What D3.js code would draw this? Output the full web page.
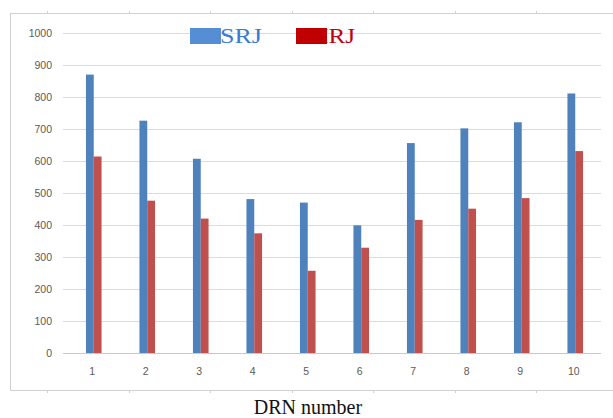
<!DOCTYPE html>
<html>
<head>
<meta charset="utf-8">
<script src="https://cdn.jsdelivr.net/npm/d3@7"></script>
<style>
  body { margin: 0; background: #fff; }
  svg { display: block; }
</style>
</head>
<body>
<div id="chart"></div>
<script>
const categories = ["1", "2", "3", "4", "5", "6", "7", "8", "9", "10"];
const seriesNames = ["SRJ", "MRJ"];
const srjValues = [870, 726, 607, 481, 470, 399, 656, 702, 721, 811];
const mrjValues = [614, 476, 420, 374, 257, 329, 416, 451, 484, 631];
const yTicks = [0, 100, 200, 300, 400, 500, 600, 700, 800, 900, 1000];

const width = 613, height = 418;
const barColors = ["#4f81bd", "#c0504d"];
const legendColors = ["#558ed5", "#c00000"];
const textColors = ["#3a7ad6", "#c00010"];

const svg = d3.select("#chart")
  .append("svg")
  .attr("width", width)
  .attr("height", height);

// outer frame (left, top, bottom edges)
const frame = svg.append("g").attr("stroke", "#d0d0d0").attr("fill", "none");
frame.append("path").attr("d", "M11,13.5H613M10.5,13V390.5M11,390.5H613");
d3.range(7).forEach(i => {
  const fx = Math.round(47 + i * 81.5) + 0.5;
  frame.append("line").attr("x1", fx).attr("x2", fx).attr("y1", 11).attr("y2", 13);
  frame.append("line").attr("x1", fx).attr("x2", fx).attr("y1", 391).attr("y2", 393);
});

const x = d3.scaleBand().domain(categories).range([67, 602]).padding(0);
const y = d3.scaleLinear().domain([0, 1000]).range([353, 33]);
const inner = d3.scaleBand().domain(seriesNames).range([-7.8, 7.8]);

// gridlines
svg.append("g")
  .selectAll("line")
  .data(yTicks)
  .join("line")
  .attr("x1", 63)
  .attr("x2", 601)
  .attr("y1", d => Math.round(y(d)) + 0.5)
  .attr("y2", d => Math.round(y(d)) + 0.5)
  .attr("stroke", d => d === 0 ? "#c8c8c8" : "#dcdcdc")
  .attr("stroke-width", 1);

// y labels
svg.append("g")
  .selectAll("text")
  .data(yTicks)
  .join("text")
  .attr("x", 52)
  .attr("y", d => y(d) + 3.8)
  .attr("text-anchor", "end")
  .attr("font-family", "Liberation Sans, Arial, sans-serif")
  .attr("font-size", "10.5px")
  .attr("fill", "#5a5a5a")
  .text(d => d);

// bars
const rows = categories.map((c, i) => ({ cat: c, values: [srjValues[i], mrjValues[i]] }));
const groups = svg.append("g")
  .selectAll("g")
  .data(rows)
  .join("g")
  .attr("transform", d => `translate(${x(d.cat) + x.bandwidth() / 2},0)`);

groups.selectAll("rect")
  .data(d => d.values.map((v, k) => ({ name: seriesNames[k], value: v, k: k })))
  .join("rect")
  .attr("x", d => inner(d.name))
  .attr("width", inner.bandwidth())
  .attr("y", d => y(d.value))
  .attr("height", d => y(0) - y(d.value))
  .attr("fill", d => barColors[d.k]);

// x labels
svg.append("g")
  .selectAll("text")
  .data(categories)
  .join("text")
  .attr("x", d => x(d) + x.bandwidth() / 2 - 1.5)
  .attr("y", 375)
  .attr("text-anchor", "middle")
  .attr("font-family", "Liberation Sans, Arial, sans-serif")
  .attr("font-size", "10.5px")
  .attr("fill", "#5a5a5a")
  .text(d => d);

// legend
const legend = [
  { name: seriesNames[0], rx: 190, rw: 31, tx: 220, tl: 42 },
  { name: seriesNames[1], rx: 296, rw: 31, tx: 306, tl: 49 }
];
legend.forEach((l, k) => {
  svg.append("text")
    .attr("x", l.tx)
    .attr("y", 43)
    .attr("font-family", "Liberation Serif, Times New Roman, serif")
    .attr("font-size", "22px")
    .attr("textLength", l.tl)
    .attr("lengthAdjust", "spacingAndGlyphs")
    .attr("fill", textColors[k])
    .text(l.name);
  svg.append("rect")
    .attr("x", l.rx)
    .attr("y", 28)
    .attr("width", l.rw)
    .attr("height", 16)
    .attr("fill", legendColors[k]);
});

// axis title
svg.append("text")
  .attr("x", 308)
  .attr("y", 414)
  .attr("text-anchor", "middle")
  .attr("font-family", "Liberation Serif, Times New Roman, serif")
  .attr("font-size", "20px")
  .attr("fill", "#111")
  .text("DRN number");
</script>
</body>
</html>
